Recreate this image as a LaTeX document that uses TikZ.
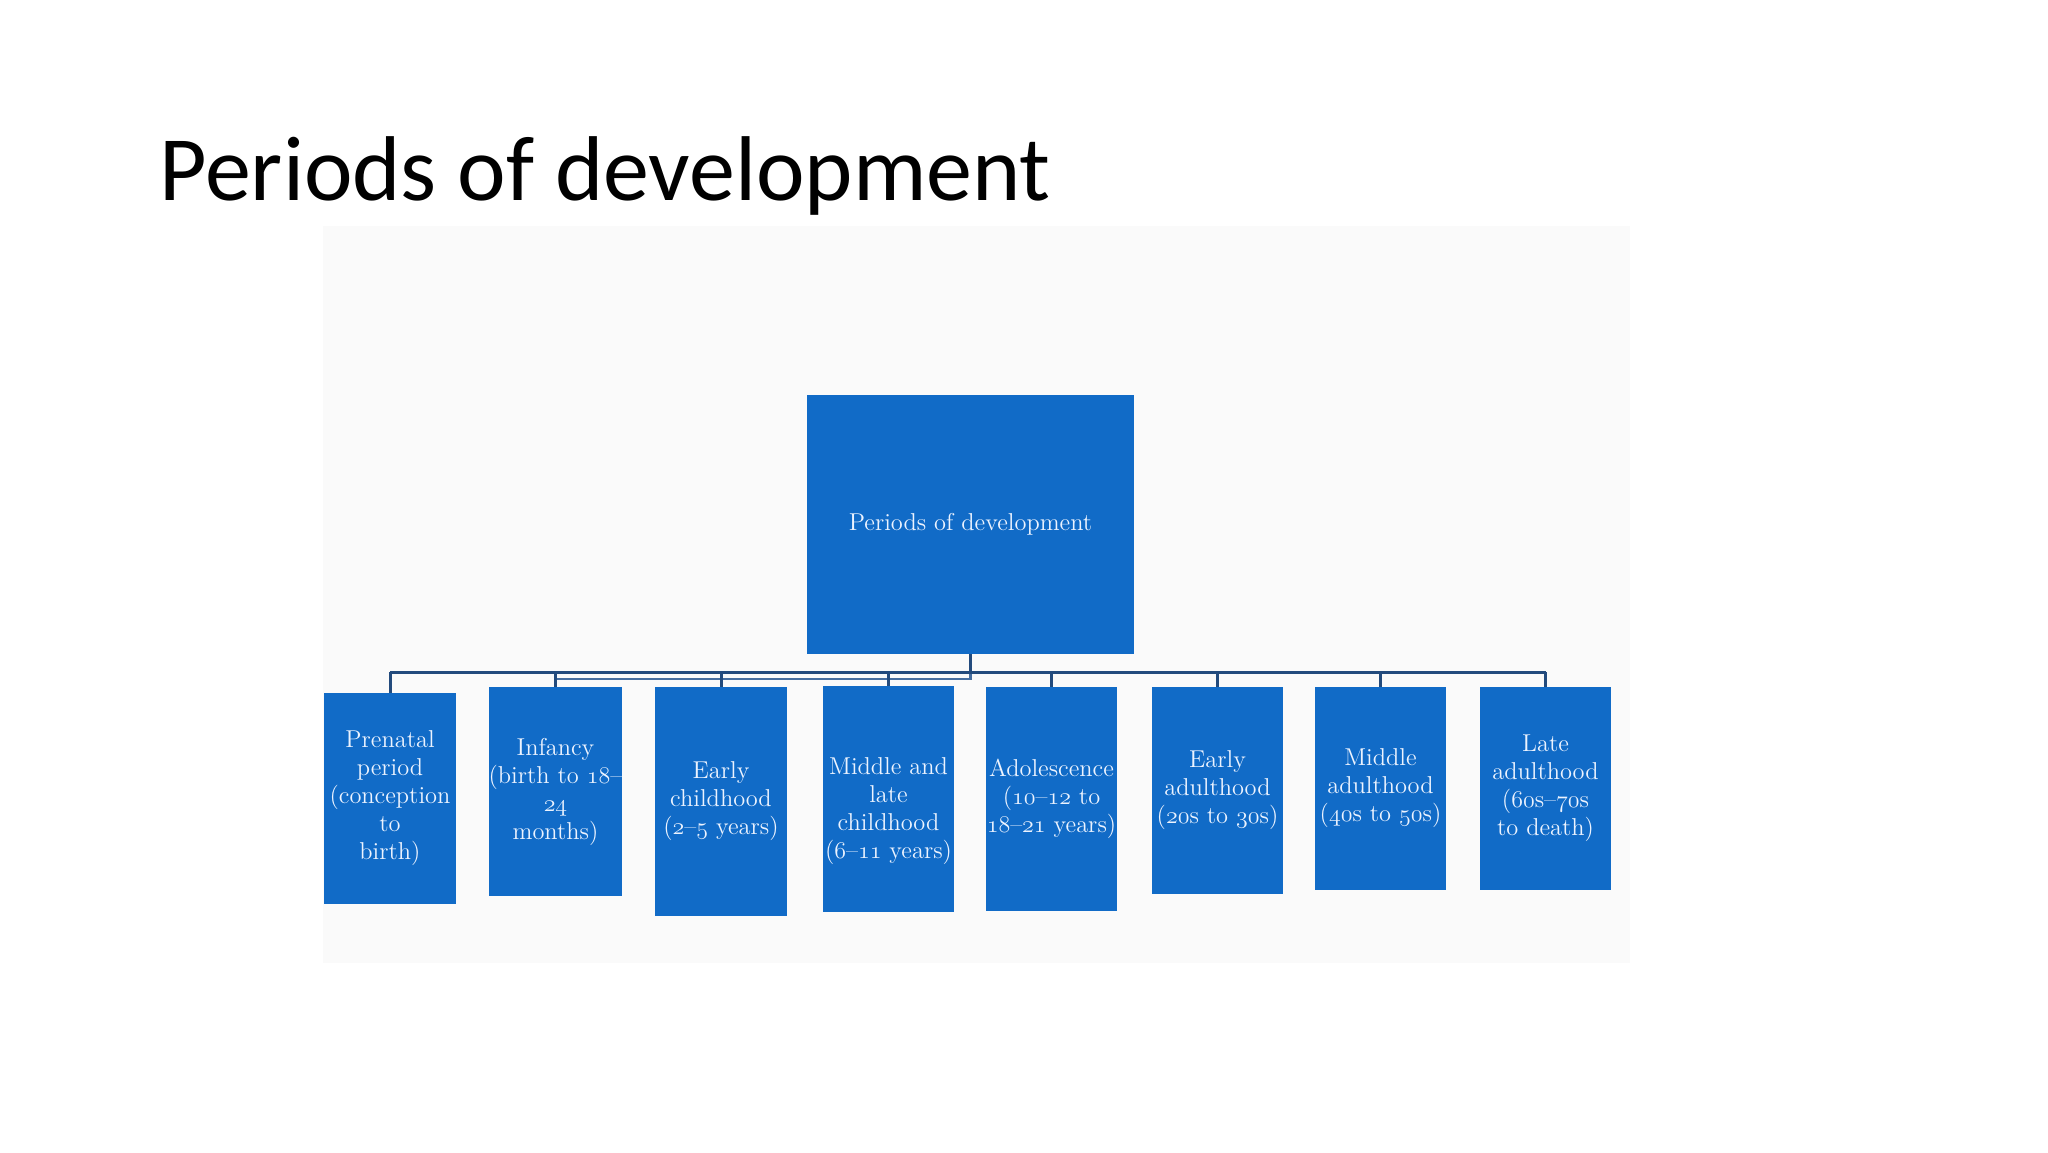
\documentclass[tikz,border=0pt]{standalone}
\usepackage{fontspec}
\newfontfamily\titlefont{Carlito}
\newcommand\osn[1]{{\usefont{OML}{cmm}{m}{it}#1}}
\definecolor{boxblue}{RGB}{17,107,199}
\definecolor{linenavy}{RGB}{35,75,125}
\definecolor{linelight}{RGB}{70,110,160}
\definecolor{boxtext}{RGB}{236,243,255}
\definecolor{imgbg}{RGB}{250,250,250}
\tikzset{
  pbox/.style={draw=none, fill=boxblue, inner sep=0pt, align=center, text=boxtext,
    font=\fontsize{12.2}{14}\selectfont},
  conn/.style={draw=linenavy, line width=1.5pt},
  conntwo/.style={draw=linelight, line width=1.2pt},
}
\begin{document}
\begin{tikzpicture}[x=0.5pt, y=-0.5pt]
\useasboundingbox (0,0) rectangle (2048,1152);
\fill[white] (0,0) rectangle (2048,1152);
\fill[imgbg] (323,226) rectangle (1630,963);
\node[anchor=base west, inner sep=0pt, font=\titlefont\fontsize{46}{55}\selectfont] (title) at (159,200) {Periods of development};

\node[pbox, minimum width=163.5pt, minimum height=129.5pt] (top) at (970.5,524.5) {Periods of development};

\node[pbox, minimum width=66pt, minimum height=105.5pt] (b1) at (390,798.5) {Prenatal\\period\\(conception\\to\\birth)};
\node[pbox, minimum width=66.5pt, minimum height=104.5pt] (b2) at (555.5,791.5) {Infancy\\(birth to \osn{18}–\\\osn{24}\\months)};
\node[pbox, minimum width=66pt, minimum height=114.5pt] (b3) at (721,801.5) {Early\\childhood\\(\osn{2}–\osn{5} years)};
\node[pbox, minimum width=65.5pt, minimum height=113pt] (b4) at (888.5,799) {\raisebox{-6pt}[\height][\depth]{\begin{tabular}{@{}c@{}}Middle and\\late\\childhood\\(\osn{6}–\osn{11} years)\end{tabular}}};
\node[pbox, minimum width=65.5pt, minimum height=112pt] (b5) at (1051.5,799) {Adolescence\\(\osn{10}–\osn{12} to\\\osn{18}–\osn{21} years)};
\node[pbox, minimum width=65.5pt, minimum height=103.5pt] (b6) at (1217.5,790.5) {Early\\adulthood\\(\osn{20}s to \osn{30}s)};
\node[pbox, minimum width=65.5pt, minimum height=101.5pt] (b7) at (1380.5,788.5) {Middle\\adulthood\\(\osn{40}s to \osn{50}s)};
\node[pbox, minimum width=65.5pt, minimum height=101.5pt] (b8) at (1545.5,788.5) {Late\\adulthood\\(\osn{60}s–\osn{70}s\\to death)};

\coordinate (bus) at (0,672);
\coordinate (bustwo) at (0,679);
\draw[conntwo] (b2.north |- bustwo) -- (top.south |- bustwo) -- (top.south |- bus);
\draw[conn] (top.south) -- (top.south |- bus);
\draw[conn] (b1.north |- bus) -- (b8.north |- bus);
\foreach \i in {1,...,8} {
  \draw[conn] (b\i.north |- bus) -- (b\i.north);
}
\end{tikzpicture}
\end{document}
